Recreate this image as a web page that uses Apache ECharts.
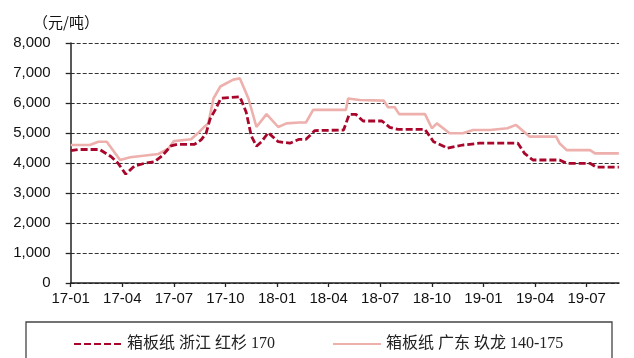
<!DOCTYPE html>
<html>
<head>
<meta charset="utf-8">
<script src="https://cdn.jsdelivr.net/npm/echarts@6/dist/echarts.min.js"></script>
<style>
html,body{margin:0;padding:0;background:#fff;}
#c{width:634px;height:358px;}
</style>
</head>
<body>
<div id="c"></div>
<script>
// ---- data ----
const unitLabel = '（元/吨）';
const xTickLabels = ['17-01','17-04','17-07','17-10','18-01','18-04','18-07','18-10','19-01','19-04','19-07'];
const yTickValues = [0,1000,2000,3000,4000,5000,6000,7000,8000];

const zjName = '箱板纸 浙江 红杉 170';
const zjDates = ['2017-01-01','2017-01-16','2017-02-20','2017-03-12','2017-03-24','2017-04-07','2017-04-22','2017-05-10','2017-05-28','2017-06-10','2017-06-26','2017-07-07','2017-08-07','2017-08-19','2017-08-28','2017-09-04','2017-09-13','2017-09-23','2017-10-27','2017-11-07','2017-11-16','2017-11-25','2017-12-04','2017-12-16','2018-01-03','2018-01-24','2018-02-09','2018-02-20','2018-03-07','2018-04-27','2018-05-07','2018-05-19','2018-06-01','2018-07-04','2018-07-18','2018-08-02','2018-09-19','2018-10-04','2018-10-24','2018-10-28','2018-11-25','2018-12-25','2019-03-01','2019-03-13','2019-03-28','2019-05-14','2019-05-27','2019-07-07','2019-07-19','2019-08-28'];
const zjValues = [4410,4450,4450,4210,4000,3630,3900,3990,4040,4230,4570,4620,4620,4770,4990,5460,5770,6160,6210,5700,4900,4560,4710,5010,4710,4660,4790,4790,5080,5100,5620,5620,5400,5400,5190,5120,5120,4710,4540,4490,4600,4660,4660,4320,4100,4100,3990,3990,3860,3860];

const gdName = '箱板纸 广东 玖龙 140-175';
const gdDates = ['2017-01-01','2017-02-04','2017-02-18','2017-03-04','2017-03-28','2017-04-15','2017-06-04','2017-06-22','2017-07-01','2017-08-01','2017-08-13','2017-08-25','2017-09-01','2017-09-10','2017-09-22','2017-10-15','2017-10-27','2017-11-11','2017-11-25','2017-12-13','2018-01-03','2018-01-18','2018-02-09','2018-02-20','2018-03-04','2018-05-01','2018-05-05','2018-05-26','2018-07-07','2018-07-15','2018-07-27','2018-08-04','2018-09-19','2018-10-01','2018-10-10','2018-11-02','2018-11-25','2018-12-13','2019-01-13','2019-01-16','2019-02-12','2019-02-26','2019-03-22','2019-05-08','2019-05-14','2019-05-27','2019-07-07','2019-07-16','2019-08-28'];
const gdValues = [4600,4600,4710,4710,4100,4190,4300,4490,4730,4790,4990,5210,5320,6150,6550,6780,6820,6150,5200,5630,5200,5320,5350,5350,5770,5770,6150,6100,6080,5860,5860,5630,5630,5160,5320,4990,4990,5100,5100,5160,5160,5270,4880,4880,4660,4430,4430,4320,4320];

// ---- helpers ----
function monthIndex(s){
  const p = s.split('-').map(Number);
  const dim = new Date(p[0], p[1], 0).getDate();
  return (p[0]-2017)*12 + (p[1]-1) + (p[2]-1)/dim;
}
function pairs(dates, vals){ return dates.map((d,i)=>[monthIndex(d), vals[i]]); }
const xTickValues = xTickLabels.map((_,i)=>i*3);

const legendBase = {
  top: 331, itemWidth:48, itemHeight:12, itemGap:42,
  itemStyle:{opacity:0},
  textStyle:{fontFamily:"'Liberation Serif','Noto Sans CJK SC'", fontSize:16, color:'#222'}
};

const chart = echarts.init(document.getElementById('c'), null, {renderer:'canvas'});
chart.setOption({
  animation:false,
  backgroundColor:'#fff',
  title:{
    text: unitLabel, left: 28, top: 10,
    textStyle:{fontFamily:"'Noto Sans CJK SC'", fontSize:15, fontWeight:'normal', color:'#111'}
  },
  grid:{left:70.7, right:15, top:43, bottom:75, containLabel:false},
  legend:[
    Object.assign({left:68, data:[zjName]}, legendBase),
    Object.assign({left:327, data:[gdName]}, legendBase)
  ],
  graphic:[{
    type:'rect', shape:{x:26, y:322, width:586, height:60},
    style:{fill:'none', stroke:'#444', lineWidth:1.3}, silent:true, z:-1
  }],
  xAxis:{
    type:'value', min:0, max:31.88, interval:3,
    axisLine:{show:true, onZero:false, lineStyle:{color:'#222', width:1.5}},
    axisTick:{show:true, length:4, lineStyle:{color:'#222', width:1.3}, customValues:xTickValues},
    axisLabel:{
      customValues:xTickValues,
      margin:8, fontFamily:"'Liberation Sans Narrow','Liberation Sans'", fontSize:15, color:'#111',
      formatter:v=>xTickLabels[Math.round(v/3)]
    },
    splitLine:{show:false}
  },
  yAxis:{
    type:'value', min:0, max:8000, interval:1000,
    axisLine:{show:true, lineStyle:{color:'#222', width:1.5}},
    axisTick:{show:true, length:5, lineStyle:{color:'#222', width:1.3}},
    axisLabel:{margin:20, fontFamily:"'Liberation Sans'", fontSize:15, color:'#111',
      formatter:v=>v.toLocaleString('en-US')},
    splitLine:{show:true, lineStyle:{color:'#333', width:1, type:[4,2]}}
  },
  series:[
    {
      name:zjName, type:'line', data:pairs(zjDates, zjValues), showSymbol:false, symbol:'none', z:3,
      lineStyle:{color:'#A8062A', width:2.8, type:[7,3]}, itemStyle:{color:'#A8062A'}
    },
    {
      name:gdName, type:'line', data:pairs(gdDates, gdValues), showSymbol:false, symbol:'none', z:2,
      lineStyle:{color:'#EDB0AC', width:2.6}, itemStyle:{color:'#EDB0AC'}
    }
  ]
});
</script>
</body>
</html>
